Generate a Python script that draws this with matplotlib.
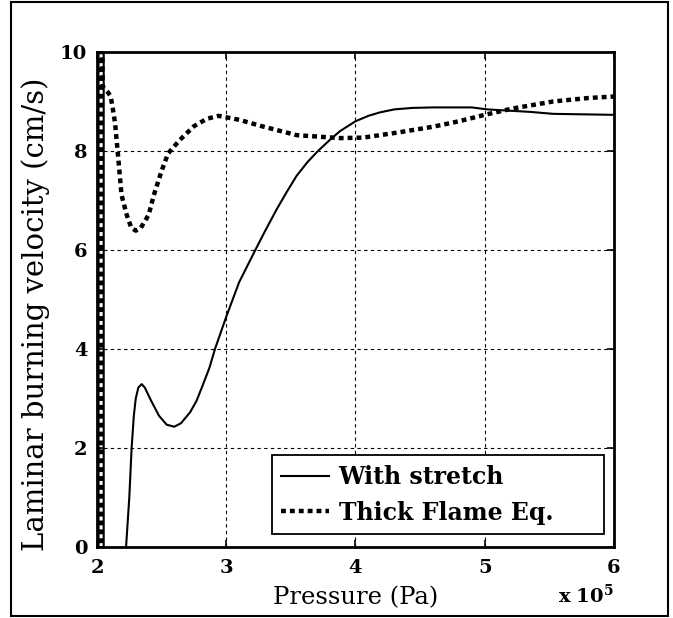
import numpy as np
import matplotlib.pyplot as plt
from matplotlib.patches import Rectangle

plt.rcParams['mathtext.fontset'] = 'dejavuserif'

# pressure in units of 1e5 Pa, velocity in cm/s
stretch_p = [2.012, 2.012, 2.052, 2.052, 2.225, 2.25, 2.268, 2.285, 2.30, 2.32, 2.346,
             2.37, 2.42, 2.48, 2.54, 2.598, 2.65, 2.72, 2.77, 2.82, 2.87, 2.913,
             3.0, 3.1, 3.235, 3.3, 3.39, 3.47, 3.545, 3.63, 3.71, 3.8, 3.88,
             4.0, 4.1, 4.19, 4.3, 4.44, 4.6, 4.9, 5.02, 5.35, 5.53, 6.0]
stretch_v = [-1, 11, 11, -1, 0.0, 1.0, 2.0, 2.65, 3.0, 3.22, 3.29,
             3.22, 2.95, 2.65, 2.47, 2.43, 2.5, 2.72, 2.95, 3.28, 3.62, 4.0,
             4.65, 5.35, 6.05, 6.38, 6.82, 7.18, 7.5, 7.78, 8.0, 8.22, 8.4,
             8.6, 8.71, 8.78, 8.84, 8.87, 8.88, 8.88, 8.84, 8.79, 8.75, 8.73]

thick_p = [2.033, 2.033, 2.045, 2.08, 2.105, 2.12, 2.14, 2.165, 2.19, 2.23, 2.265, 2.30,
           2.34, 2.40, 2.44, 2.50, 2.55, 2.64, 2.75, 2.85, 2.94, 3.1, 3.29,
           3.545, 3.88, 4.06, 4.32, 4.60, 4.8, 5.0, 5.22, 5.53, 5.8, 6.0]
thick_v = [-1, 11, 9.3, 9.2, 9.11, 8.9, 8.56, 7.85, 7.11, 6.71, 6.45, 6.39,
           6.45, 6.71, 7.11, 7.6, 7.95, 8.22, 8.5, 8.65, 8.71, 8.63, 8.49,
           8.32, 8.26, 8.27, 8.37, 8.49, 8.6, 8.73, 8.86, 9.0, 9.07, 9.1]

xticks = [2, 3, 4, 5, 6]
yticks = [0, 2, 4, 6, 8, 10]

fig = plt.figure(figsize=(6.73, 6.18), dpi=100)
ax = fig.add_axes([0.1441, 0.1149, 0.7682, 0.801])

ax.plot(stretch_p, stretch_v, '-', color='black', lw=1.5, label='With stretch')
ax.plot(thick_p, thick_v, color='black', lw=3.2, linestyle=(0, (1.1, 0.9)),
        label='Thick Flame Eq.')

ax.set_xlim(2, 6)
ax.set_ylim(0, 10)
ax.set_xticks(xticks)
ax.set_yticks(yticks)
ax.set_xticklabels([str(t) for t in xticks], fontfamily='DejaVu Serif',
                   fontweight='bold', fontsize=14)
ax.set_yticklabels([str(t) for t in yticks], fontfamily='DejaVu Serif',
                   fontweight='bold', fontsize=14)
ax.tick_params(direction='in', length=5, width=1.2, top=True, right=True)
ax.tick_params(axis='x', pad=9)
ax.tick_params(axis='y', pad=7)
ax.grid(True, color='black', lw=0.8, linestyle=(0, (3, 3)))
for s in ax.spines.values():
    s.set_linewidth(2)

ax.set_xlabel('Pressure (Pa)', fontfamily='DejaVu Serif', fontsize=17.5, labelpad=6)
ax.set_ylabel('Laminar burning velocity (cm/s)', fontfamily='DejaVu Serif',
              fontsize=21)
ax.yaxis.set_label_coords(-0.09, 0.47)
fig.text(614 / 673, 1 - 584 / 618, r'$\mathbf{x\ 10^5}$', ha='right', va='top',
         fontsize=14)

leg = ax.legend(loc='lower left', bbox_to_anchor=(0.3385, 0.026, 0.642, 0.16),
                mode='expand',
                prop={'family': 'DejaVu Serif', 'weight': 'bold', 'size': 17},
                fancybox=False, edgecolor='black', framealpha=1,
                handlelength=2.0, handletextpad=0.42, borderaxespad=0,
                labelspacing=0.5, borderpad=0.4)
leg.get_frame().set_linewidth(1.3)

fig.patches.append(Rectangle((11 / 673, 2 / 618), 657 / 673, 614 / 618,
                             transform=fig.transFigure, fill=False,
                             edgecolor='black', lw=1.5))

fig.savefig('out.png', dpi=100)
